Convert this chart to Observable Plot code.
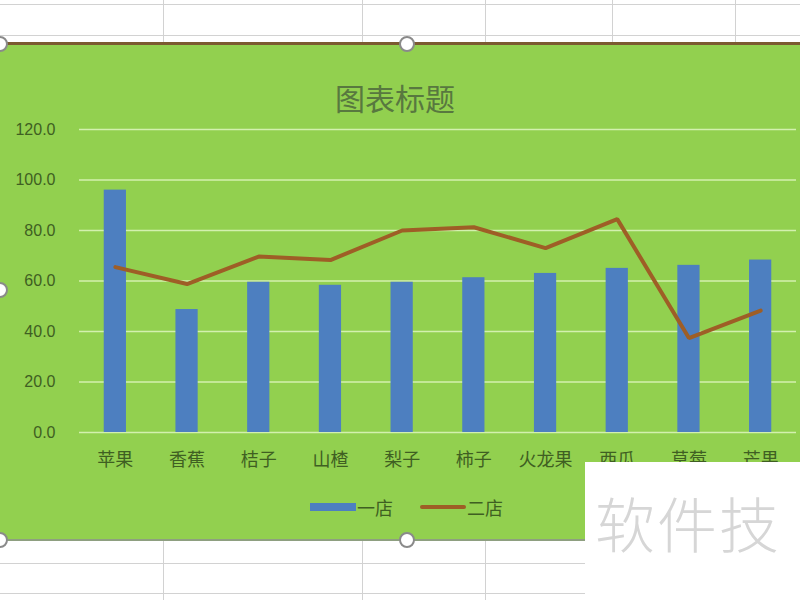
<!DOCTYPE html>
<html><head><meta charset="utf-8">
<script src="https://cdn.jsdelivr.net/npm/d3@7"></script>
<script src="https://cdn.jsdelivr.net/npm/@observablehq/plot@0.6"></script>
<style>
body{margin:0;background:#fff;}
#page{position:relative;width:800px;height:600px;background:#fff;overflow:hidden;font-family:"Noto Sans CJK SC","Noto Sans",sans-serif;}
.hl{position:absolute;left:0;width:800px;height:1px;background:#d2d2d2;}
.vl{position:absolute;width:1px;background:#d2d2d2;}
#chart{position:absolute;left:0;top:42px;width:800px;height:499px;background:#92d04f;border-top:3px solid #7b5a30;border-bottom:2px solid #8e9f80;box-sizing:border-box;}
#title{position:absolute;left:0;width:790px;top:77px;text-align:center;font-size:30px;color:#58783f;line-height:40px;}
#plot{position:absolute;left:0;top:110px;}
#legend{position:absolute;top:494px;left:0;width:800px;height:26px;font-size:18px;color:#3f5f22;}
.sw{position:absolute;}
.lt{position:absolute;top:0;line-height:26px;}
#wm{position:absolute;left:585px;top:462px;width:215px;height:138px;background:#fff;}
#wmt{position:absolute;left:10px;top:20px;font-size:60px;font-weight:300;color:#d6d6d6;white-space:nowrap;line-height:80px;letter-spacing:2px;}
.hd{position:absolute;width:12px;height:12px;border-radius:50%;background:#fff;border:2px solid #8a8a8a;}
</style></head>
<body>
<div id="page">
  <div class="hl" style="top:4px"></div>
  <div class="hl" style="top:35px"></div>
  <div class="hl" style="top:563px"></div>
  <div class="hl" style="top:593px"></div>
  <div class="vl" style="left:163px;top:0;height:600px"></div>
  <div class="vl" style="left:362px;top:0;height:600px"></div>
  <div class="vl" style="left:485px;top:0;height:600px"></div>
  <div class="vl" style="left:612px;top:0;height:42px"></div>
  <div class="vl" style="left:735px;top:0;height:42px"></div>
  <div id="chart"></div>
  <div id="title"></div>
  <div id="plot"></div>
  <div id="legend"></div>
  <div id="wm"><div id="wmt"></div></div>
  <div class="hd" style="left:-8px;top:36px"></div>
  <div class="hd" style="left:399px;top:36px"></div>
  <div class="hd" style="left:-8px;top:282px"></div>
  <div class="hd" style="left:-8px;top:532px"></div>
  <div class="hd" style="left:399px;top:532px"></div>
</div>
<script>
const titleText = "图表标题";
const watermarkText = "软件技";
const categories = ["苹果","香蕉","桔子","山楂","梨子","柿子","火龙果","西瓜","草莓","芒果"];
const store1 = [96, 48.7, 59.5, 58.3, 59.5, 61.3, 63, 65, 66.2, 68.3];
const store2 = [65.5, 58.8, 69.7, 68.3, 80, 81.3, 73, 84.5, 37.4, 48.3];
const seriesNames = ["一店","二店"];
const yTicks = [0,20,40,60,80,100,120];

const barColor = "#4d7fc0";
const lineColor = "#9e5e26";

document.getElementById("title").textContent = titleText;
document.getElementById("wmt").textContent = watermarkText;

const data = categories.map((c,i)=>({cat:c, v1:store1[i], v2:store2[i]}));

const chart = Plot.plot({
  width: 800,
  height: 370,
  marginLeft: 79,
  marginRight: 4,
  marginTop: 19,
  marginBottom: 48,
  style: {background:"transparent", color:"#3f5f22", fontFamily:'"Noto Sans CJK SC","Noto Sans",sans-serif', overflow:"visible"},
  x: {domain: categories, paddingInner: 0.69, paddingOuter: 0.345, round: false, label: null},
  y: {domain: [0,120], label: null},
  marks: [
    Plot.gridY(yTicks, {stroke:"#d3f0ae", strokeOpacity:1, strokeWidth:1.6}),
    Plot.barY(data, {x:"cat", y:"v1", fill:barColor}),
    Plot.line(data, {x:"cat", y:"v2", stroke:lineColor, strokeWidth:4, strokeLinejoin:"miter"}),
    Plot.axisY({ticks: yTicks, tickFormat: d3.format(".1f"), tickSize:0, tickPadding:24, fontSize:16, label:null, fontFamily:'"Liberation Sans","Noto Sans",sans-serif'}),
    Plot.axisX({tickSize:0, tickPadding:21, fontSize:18, label:null})
  ]
});
document.getElementById("plot").appendChild(chart);

const lg = document.getElementById("legend");
const items = [
  {name: seriesNames[0], kind:"bar", color: barColor, x: 310},
  {name: seriesNames[1], kind:"line", color: lineColor, x: 420}
];
for (const it of items) {
  const sw = document.createElement("div");
  sw.className = "sw";
  sw.style.left = it.x + "px";
  sw.style.width = "46px";
  sw.style.background = it.color;
  if (it.kind === "bar") { sw.style.top = "9px"; sw.style.height = "8px"; }
  else { sw.style.top = "11px"; sw.style.height = "4px"; sw.style.borderRadius = "2px"; }
  lg.appendChild(sw);
  const t = document.createElement("div");
  t.className = "lt";
  t.style.left = (it.x + 47) + "px";
  t.textContent = it.name;
  lg.appendChild(t);
}
</script>
</body></html>
